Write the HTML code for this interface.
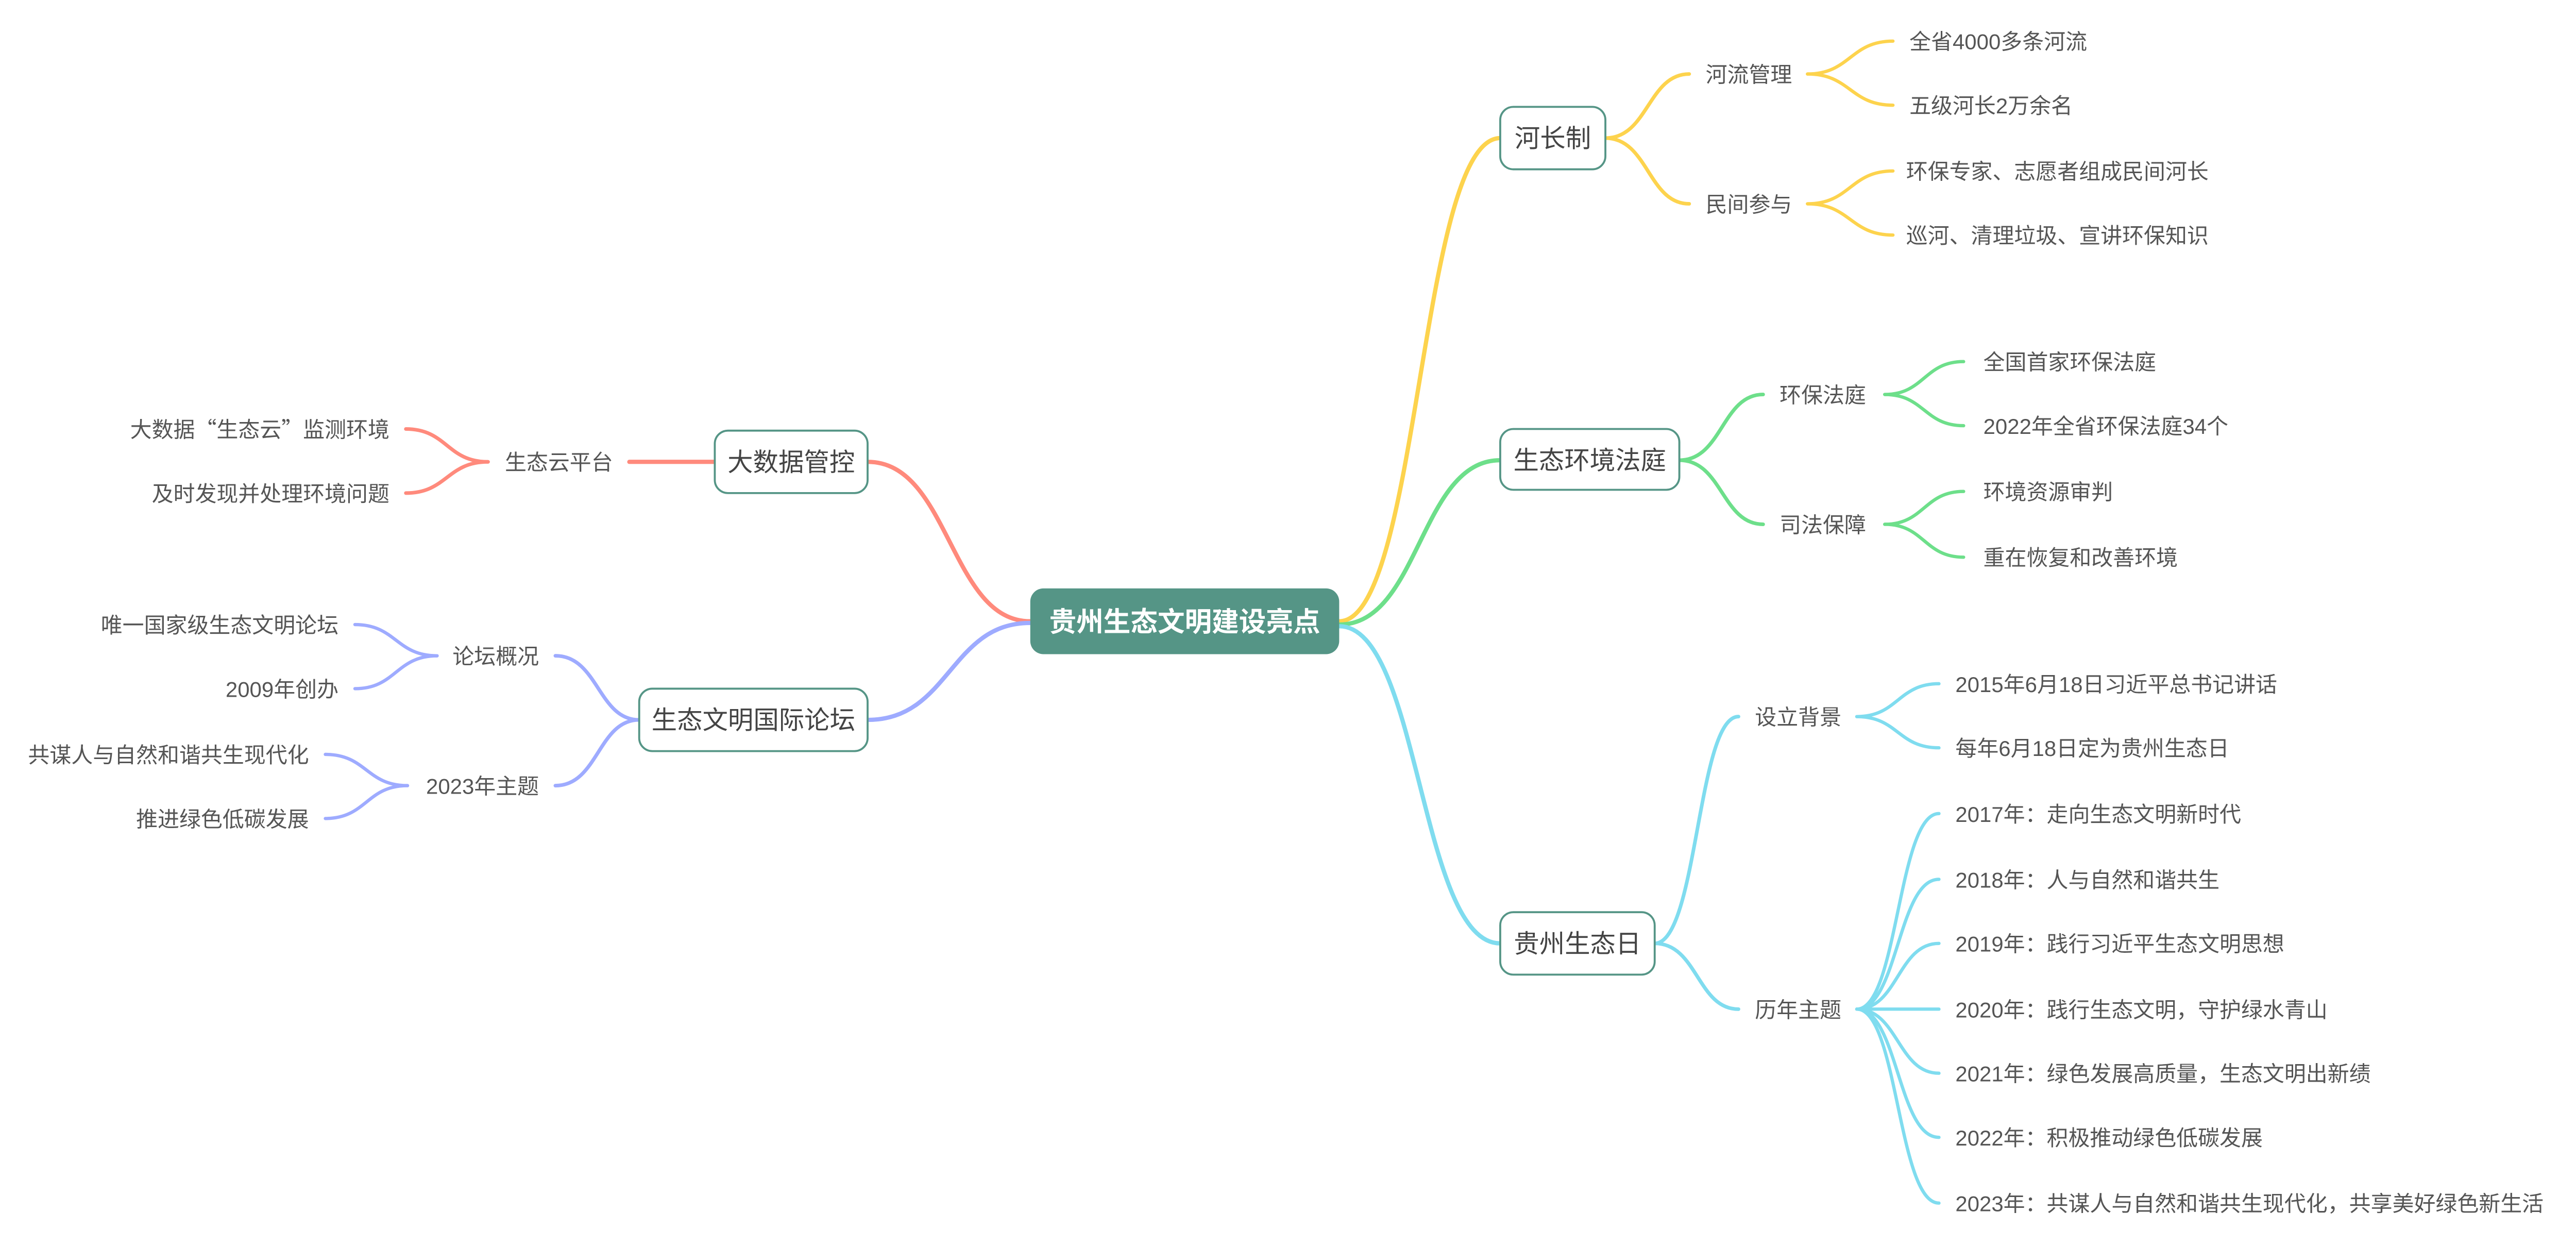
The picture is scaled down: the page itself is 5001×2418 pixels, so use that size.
<!DOCTYPE html>
<html><head><meta charset="utf-8"><style>
html,body{margin:0;padding:0;background:#fff;}
svg{display:block;}
text{font-family:"Liberation Sans","Noto Sans CJK SC",sans-serif;}
.s{font-size:13.15px;fill:#555;}
.n{font-size:15.5px;fill:#444;}
.cjk{font-family:"Noto Sans CJK SC",sans-serif;}
</style></head><body>
<svg width="5001" height="2418" viewBox="0 0 1568 758.1" xmlns="http://www.w3.org/2000/svg">
<g fill="none" stroke-linecap="round">
<!-- yellow -->
<g stroke="#fdd34d">
<path d="M815 378 C864 378 864 84 913 84" stroke-width="2.6"/>
<path d="M977 84 C1003 84 1003 45 1028 45" stroke-width="2.2"/>
<path d="M977 84 C1003 84 1003 124 1028 124" stroke-width="2.2"/>
<path d="M1100 45 C1126 45 1126 25 1152 25" stroke-width="2"/>
<path d="M1100 45 C1126 45 1126 64 1152 64" stroke-width="2"/>
<path d="M1100 124 C1126 124 1126 104 1152 104" stroke-width="2"/>
<path d="M1100 124 C1126 124 1126 143 1152 143" stroke-width="2"/>
</g>
<!-- green -->
<g stroke="#6ddf8a">
<path d="M815 380 C864 380 864 280 913 280" stroke-width="2.6"/>
<path d="M1022 280 C1048 280 1048 240 1073 240" stroke-width="2.2"/>
<path d="M1022 280 C1048 280 1048 319 1073 319" stroke-width="2.2"/>
<path d="M1147 240 C1171 240 1171 220 1195 220" stroke-width="2"/>
<path d="M1147 240 C1171 240 1171 259 1195 259" stroke-width="2"/>
<path d="M1147 319 C1171 319 1171 299 1195 299" stroke-width="2"/>
<path d="M1147 319 C1171 319 1171 339 1195 339" stroke-width="2"/>
</g>
<!-- cyan -->
<g stroke="#7fdcef">
<path d="M815 381 C864 381 864 574 913 574" stroke-width="2.6"/>
<path d="M1007 574 C1033 574 1033 436 1058 436" stroke-width="2.2"/>
<path d="M1007 574 C1033 574 1033 614 1058 614" stroke-width="2.2"/>
<path d="M1130 436 C1155 436 1155 416 1180 416" stroke-width="2"/>
<path d="M1130 436 C1155 436 1155 455 1180 455" stroke-width="2"/>
<path d="M1130 614 C1155 614 1155 495 1180 495" stroke-width="2"/>
<path d="M1130 614 C1155 614 1155 535 1180 535" stroke-width="2"/>
<path d="M1130 614 C1155 614 1155 574 1180 574" stroke-width="2"/>
<path d="M1130 614 L1180 614" stroke-width="2"/>
<path d="M1130 614 C1155 614 1155 653 1180 653" stroke-width="2"/>
<path d="M1130 614 C1155 614 1155 692 1180 692" stroke-width="2"/>
<path d="M1130 614 C1155 614 1155 732 1180 732" stroke-width="2"/>
</g>
<!-- red -->
<g stroke="#ff8a7c">
<path d="M627 378 C578 378 578 281 528 281" stroke-width="2.6"/>
<path d="M435 281 L383 281" stroke-width="2.6"/>
<path d="M297 281 C272 281 272 261 247 261" stroke-width="2.2"/>
<path d="M297 281 C272 281 272 300 247 300" stroke-width="2.2"/>
</g>
<!-- blue -->
<g stroke="#9eabff">
<path d="M627 379 C578 379 578 438 528 438" stroke-width="2.6"/>
<path d="M389 438 C364 438 364 399 338 399" stroke-width="2.2"/>
<path d="M389 438 C364 438 364 478 338 478" stroke-width="2.2"/>
<path d="M266 399 C241 399 241 380 216 380" stroke-width="2"/>
<path d="M266 399 C241 399 241 419 216 419" stroke-width="2"/>
<path d="M248 478 C223 478 223 459 198 459" stroke-width="2"/>
<path d="M248 478 C223 478 223 498 198 498" stroke-width="2"/>
</g>
</g>
<!-- center -->
<rect x="627" y="358" width="188" height="40" rx="8" fill="#559586"/>
<text x="721" y="384" text-anchor="middle" font-size="16.5" font-weight="bold" fill="#fff">贵州生态文明建设亮点</text>
<!-- branch nodes -->
<g fill="#fff" stroke="#559586" stroke-width="1.2">
<rect x="913" y="65" width="64" height="38" rx="8"/>
<rect x="913" y="261" width="109" height="37" rx="8"/>
<rect x="913" y="555" width="94" height="38" rx="8"/>
<rect x="435" y="262" width="93" height="38" rx="8"/>
<rect x="389" y="419" width="139" height="38" rx="8"/>
</g>
<g class="n" text-anchor="middle">
<text x="945" y="89.5">河长制</text>
<text x="967.5" y="285.5">生态环境法庭</text>
<text x="960" y="579.5">贵州生态日</text>
<text x="481.5" y="286.5">大数据管控</text>
<text x="458.5" y="443.5">生态文明国际论坛</text>
</g>
<g class="s">
<text x="1038" y="50">河流管理</text>
<text x="1038" y="129">民间参与</text>
<text x="1162" y="30">全省4000多条河流</text>
<text x="1162" y="69">五级河长2万余名</text>
<text x="1160" y="109">环保专家、志愿者组成民间河长</text>
<text x="1160" y="148">巡河、清理垃圾、宣讲环保知识</text>
<text x="1083" y="245">环保法庭</text>
<text x="1083" y="324">司法保障</text>
<text x="1207" y="225">全国首家环保法庭</text>
<text x="1207" y="264">2022年全省环保法庭34个</text>
<text x="1207" y="304">环境资源审判</text>
<text x="1207" y="344">重在恢复和改善环境</text>
<text x="1068" y="441">设立背景</text>
<text x="1068" y="619">历年主题</text>
<text x="1190" y="421">2015年6月18日习近平总书记讲话</text>
<text x="1190" y="460">每年6月18日定为贵州生态日</text>
<text x="1190" y="500">2017年：走向生态文明新时代</text>
<text x="1190" y="540">2018年：人与自然和谐共生</text>
<text x="1190" y="579">2019年：践行习近平生态文明思想</text>
<text x="1190" y="619">2020年：践行生态文明，守护绿水青山</text>
<text x="1190" y="658">2021年：绿色发展高质量，生态文明出新绩</text>
<text x="1190" y="697">2022年：积极推动绿色低碳发展</text>
<text x="1190" y="737">2023年：共谋人与自然和谐共生现代化，共享美好绿色新生活</text>
</g>
<g class="s" text-anchor="end">
<text x="373" y="286">生态云平台</text>
<text x="237" y="266" class="cjk">大数据“生态云”监测环境</text>
<text x="237" y="305">及时发现并处理环境问题</text>
<text x="328" y="404">论坛概况</text>
<text x="328" y="483">2023年主题</text>
<text x="206" y="385">唯一国家级生态文明论坛</text>
<text x="206" y="424">2009年创办</text>
<text x="188" y="464">共谋人与自然和谐共生现代化</text>
<text x="188" y="503">推进绿色低碳发展</text>
</g>
</svg>
</body></html>
